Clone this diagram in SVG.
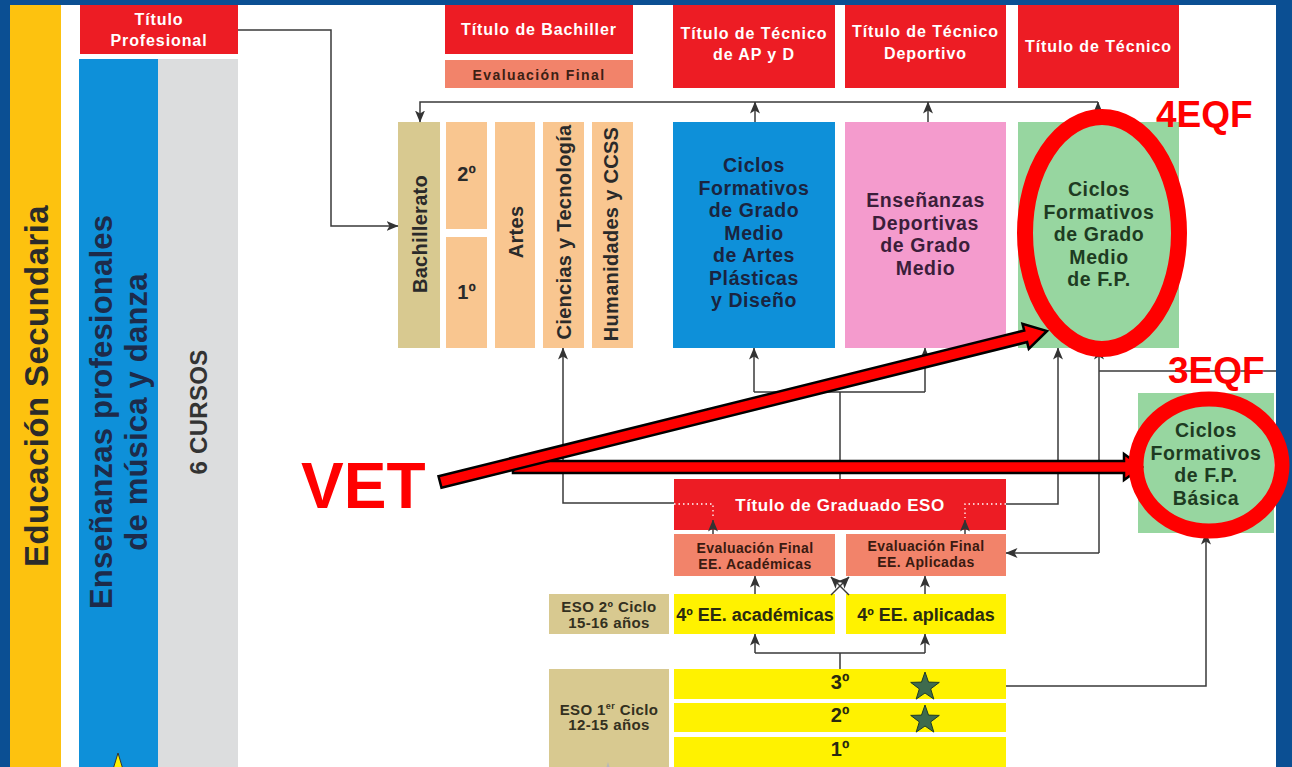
<svg xmlns="http://www.w3.org/2000/svg" width="1292" height="767" viewBox="0 0 1292 767">
<style>
text{font-family:"Liberation Sans",Arial,"DejaVu Sans",sans-serif;font-weight:bold}
.w{fill:#fff;font-size:16px;letter-spacing:0.9px;text-anchor:middle}
.mid{text-anchor:middle}
.big{font-size:19.5px;letter-spacing:0.6px;text-anchor:middle}
.rot{font-size:20px;letter-spacing:0.3px;text-anchor:middle;fill:#2a2a2a}
.ev{font-size:14px;letter-spacing:0.4px;text-anchor:middle;fill:#3a1a10}
.eso{font-size:15px;letter-spacing:0.4px;text-anchor:middle;fill:#333020}
.yl{font-size:18px;text-anchor:middle;fill:#2a2a10}
.red{fill:#ED1C24}
.sal{fill:#F2836A}
.org{fill:#F9C690}
.bei{fill:#D8C990}
.yel{fill:#FFF200}
.conn{fill:none;stroke:#3a3a3a;stroke-width:1.5}
.arr{marker-end:url(#ah)}
.dot{fill:none;stroke:#fff;stroke-width:1.3;stroke-dasharray:1.5 3}
.ring{fill:none;stroke:#FF0000;stroke-width:16}
.blk{fill:#FF0000;stroke:#000;stroke-width:2.5;stroke-linejoin:miter}
.ann{fill:#FF0000;font-family:"Liberation Sans",Arial,sans-serif;font-weight:bold}
.star{fill:#3E6B4E;stroke:#1E3A28;stroke-width:1}
</style>
<defs>
<marker id="ah" viewBox="0 0 12 10" refX="11.5" refY="5" markerWidth="12" markerHeight="10" markerUnits="userSpaceOnUse" orient="auto">
<path d="M0,0 L12,5 L0,10 L3,5 z" fill="#333"/>
</marker>
<polygon id="s15" points="0,-15 3.5,-4.9 14.3,-4.6 5.7,1.9 8.8,12.1 0,6 -8.8,12.1 -5.7,1.9 -14.3,-4.6 -3.5,-4.9"/>
</defs>

<!-- frame -->
<rect x="0" y="0" width="1292" height="767" fill="#0B4F93"/>
<rect x="10" y="5" width="1266" height="762" fill="#fff"/>

<!-- left columns -->
<g id="educacion-secundaria">
<rect x="10" y="5" width="51" height="762" fill="#FDC20F"/>
<text transform="translate(48,386) rotate(-90)" class="mid" style="font-size:33px;letter-spacing:0.4px;fill:#2b2b2b">Educación Secundaria</text>
</g>
<g id="titulo-profesional">
<rect x="80" y="5" width="158" height="49" class="red"/>
<text x="159" y="25" class="w">Título</text>
<text x="159" y="45.5" class="w">Profesional</text>
</g>
<g id="ensenanzas-musica-danza">
<rect x="79" y="59" width="79" height="708" fill="#0E90D9"/>
<text transform="translate(112,412) rotate(-90)" class="mid" style="font-size:31px;letter-spacing:0.2px;fill:#1d2b4a">Enseñanzas profesionales</text>
<text transform="translate(147,412) rotate(-90)" class="mid" style="font-size:31px;letter-spacing:0.2px;fill:#1d2b4a">de música y danza</text>
<polygon points="118,753 122.7,768.5 138.9,768.5 125.8,778 130.8,793.5 118,784 105.2,793.5 110.2,778 97.1,768.5 113.3,768.5" fill="#FFF200" stroke="#333" stroke-width="1"/>
</g>
<g id="seis-cursos">
<rect x="158" y="59" width="80" height="708" fill="#DCDDDE"/>
<text transform="translate(207,412) rotate(-90)" class="mid" style="font-size:24px;letter-spacing:0.3px;fill:#333">6 CURSOS</text>
</g>

<!-- top titles -->
<g id="titulo-bachiller">
<rect x="445" y="5" width="188" height="49" class="red"/>
<text x="539" y="35" class="w">Título de Bachiller</text>
</g>
<g id="evaluacion-final-bach">
<rect x="445" y="60" width="188" height="28" class="sal"/>
<text x="539" y="80" class="mid" style="font-size:14px;letter-spacing:1.4px;fill:#3d1f14">Evaluación Final</text>
</g>
<g id="titulo-tecnico-apyd">
<rect x="673" y="5" width="162" height="83" class="red"/>
<text x="754" y="39" class="w">Título de Técnico</text>
<text x="754" y="60" class="w">de AP y D</text>
</g>
<g id="titulo-tecnico-deportivo">
<rect x="845" y="5" width="161" height="83" class="red"/>
<text x="925.5" y="37" class="w">Título de Técnico</text>
<text x="925.5" y="59" class="w">Deportivo</text>
</g>
<g id="titulo-tecnico">
<rect x="1018" y="5" width="161" height="83" class="red"/>
<text x="1098.5" y="52" class="w">Título de Técnico</text>
</g>

<!-- bachillerato -->
<g id="bachillerato">
<rect x="398" y="122" width="42" height="226" class="bei"/>
<text transform="translate(427,234) rotate(-90)" class="rot">Bachillerato</text>
</g>
<g id="bach-2">
<rect x="446" y="122" width="41" height="107" class="org"/>
<text x="466.5" y="181" class="rot" style="letter-spacing:0">2º</text>
</g>
<g id="bach-1">
<rect x="446" y="237" width="41" height="111" class="org"/>
<text x="466.5" y="299" class="rot" style="letter-spacing:0">1º</text>
</g>
<g id="artes">
<rect x="495" y="122" width="40" height="226" class="org"/>
<text transform="translate(523,232) rotate(-90)" class="rot">Artes</text>
</g>
<g id="ciencias-tecnologia">
<rect x="543" y="122" width="41" height="226" class="org"/>
<text transform="translate(571,232) rotate(-90)" class="rot">Ciencias y Tecnología</text>
</g>
<g id="humanidades-ccss">
<rect x="592" y="122" width="41" height="226" class="org"/>
<text transform="translate(618,234) rotate(-90)" class="rot">Humanidades y CCSS</text>
</g>

<!-- ciclos -->
<g id="cf-artes-plasticas">
<rect x="673" y="122" width="162" height="226" fill="#0E90D9"/>
<g class="big" fill="#1a2440">
<text x="754" y="172">Ciclos</text>
<text x="754" y="194.5">Formativos</text>
<text x="754" y="217">de Grado</text>
<text x="754" y="239.5">Medio</text>
<text x="754" y="262">de Artes</text>
<text x="754" y="284.5">Plásticas</text>
<text x="754" y="307">y Diseño</text>
</g>
</g>
<g id="ensenanzas-deportivas">
<rect x="845" y="122" width="161" height="226" fill="#F49BCD"/>
<g class="big" fill="#3b1e3a">
<text x="925.5" y="207">Enseñanzas</text>
<text x="925.5" y="229.5">Deportivas</text>
<text x="925.5" y="252">de Grado</text>
<text x="925.5" y="274.5">Medio</text>
</g>
</g>
<g id="cf-grado-medio-fp">
<rect x="1018" y="122" width="161" height="226" fill="#97D6A0"/>
<g class="big" fill="#1e3b22">
<text x="1099" y="196">Ciclos</text>
<text x="1099" y="218.5">Formativos</text>
<text x="1099" y="241">de Grado</text>
<text x="1099" y="263.5">Medio</text>
<text x="1099" y="286">de F.P.</text>
</g>
</g>
<g id="cf-fp-basica">
<rect x="1138" y="393" width="136" height="140" fill="#97D6A0"/>
<g class="big" fill="#1e3b22">
<text x="1206" y="437">Ciclos</text>
<text x="1206" y="459.5">Formativos</text>
<text x="1206" y="482">de F.P.</text>
<text x="1206" y="504.5">Básica</text>
</g>
</g>

<!-- ESO -->
<g id="titulo-graduado-eso">
<rect x="674" y="479" width="332" height="51" class="red"/>
<text x="840" y="511" class="w" style="font-size:17px;letter-spacing:0.6px">Título de Graduado ESO</text>
</g>
<g id="eval-final-academicas">
<rect x="674" y="534" width="161" height="42" class="sal"/>
<text x="755" y="553" class="ev">Evaluación Final</text>
<text x="755" y="569" class="ev">EE. Académicas</text>
</g>
<g id="eval-final-aplicadas">
<rect x="846" y="534" width="160" height="42" class="sal"/>
<text x="926" y="551" class="ev">Evaluación Final</text>
<text x="926" y="567" class="ev">EE. Aplicadas</text>
</g>
<g id="eso-2-ciclo">
<rect x="549" y="594" width="120" height="40" class="bei"/>
<text x="609" y="612" class="eso">ESO 2º Ciclo</text>
<text x="609" y="628" class="eso">15-16 años</text>
</g>
<g id="cuarto-academicas">
<rect x="674" y="594" width="161" height="40" class="yel"/>
<text x="755" y="621" class="yl">4º EE. académicas</text>
</g>
<g id="cuarto-aplicadas">
<rect x="846" y="594" width="160" height="40" class="yel"/>
<text x="926" y="621" class="yl">4º EE. aplicadas</text>
</g>
<g id="eso-1-ciclo">
<rect x="549" y="669" width="120" height="98" class="bei"/>
<text x="609" y="715" class="eso">ESO 1<tspan font-size="9" dy="-6">er</tspan><tspan dy="6"> Ciclo</tspan></text>
<text x="609" y="730" class="eso">12-15 años</text>
<polygon points="608,762 611.7,774.4 624.6,774.4 614.2,782 618.1,794.4 608,786.8 597.9,794.4 601.8,782 591.4,774.4 604.3,774.4" fill="#B8B8B8"/>
</g>
<g id="eso-3">
<rect x="674" y="669" width="332" height="30" class="yel"/>
<text x="840" y="689" class="yl" style="font-size:20px">3º</text>
<use href="#s15" x="925" y="687" class="star"/>
</g>
<g id="eso-2">
<rect x="674" y="703" width="332" height="29" class="yel"/>
<text x="840" y="722" class="yl" style="font-size:20px">2º</text>
<use href="#s15" x="925" y="720" class="star"/>
</g>
<g id="eso-1">
<rect x="674" y="737" width="332" height="30" class="yel"/>
<text x="840" y="756" class="yl" style="font-size:20px">1º</text>
</g>

<!-- connectors -->
<g id="connectors">
<path class="conn arr" d="M238,30 H331 V226 H398"/>
<path class="conn arr" d="M1098,102 H420 V122"/>
<path class="conn arr" d="M755,122 V102"/>
<path class="conn arr" d="M928,122 V102"/>
<path class="conn arr" d="M1098,122 V102"/>
<path class="conn arr" d="M674,503 H563 V348"/>
<path class="conn" d="M840,479 V392 M754,392 H925"/>
<path class="conn arr" d="M754,392 V348"/>
<path class="conn arr" d="M925,392 V348"/>
<path class="conn arr" d="M1006,504 H1058 V348"/>
<path class="conn" d="M1276,371 H1099"/>
<path class="conn arr" d="M1099,553 V348"/>
<path class="conn arr" d="M1099,553 H1006"/>
<path class="conn arr" d="M1006,686 H1206 V533"/>
<path class="conn arr" d="M755,594 V576"/>
<path class="conn arr" d="M925,594 V576"/>
<path class="conn arr" d="M849,595 L831,577"/>
<path class="conn arr" d="M831,595 L849,577"/>
<path class="conn" d="M840,669 V653 M755,653 H925"/>
<path class="conn arr" d="M755,653 V634"/>
<path class="conn arr" d="M925,653 V634"/>
<path class="conn arr" d="M713,534 V520"/>
<path class="conn arr" d="M965,534 V520"/>
<path class="dot" d="M674,504 H713 V518"/>
<path class="dot" d="M1006,504 H965 V518"/>
</g>

<!-- annotations -->
<g id="annotations">
<ellipse cx="1102" cy="233" rx="77" ry="116" class="ring"/>
<polygon class="blk" points="513,461 1124,461 1124,454 1142,467 1124,480 1124,473 513,473"/>
<ellipse cx="1209" cy="465" rx="73" ry="66" class="ring" style="stroke-width:15"/>
<polygon class="blk" points="438.5,476.2 1024.2,330.5 1022.5,323.7 1047,331 1028.8,348.9 1027.1,342.1 441.5,487.8"/>
<text x="1156" y="127" class="ann" style="font-size:37px">4EQF</text>
<text x="1168" y="383" class="ann" style="font-size:37px">3EQF</text>
<text x="301" y="508" class="ann" style="font-size:64px">VET</text>
</g>
</svg>
